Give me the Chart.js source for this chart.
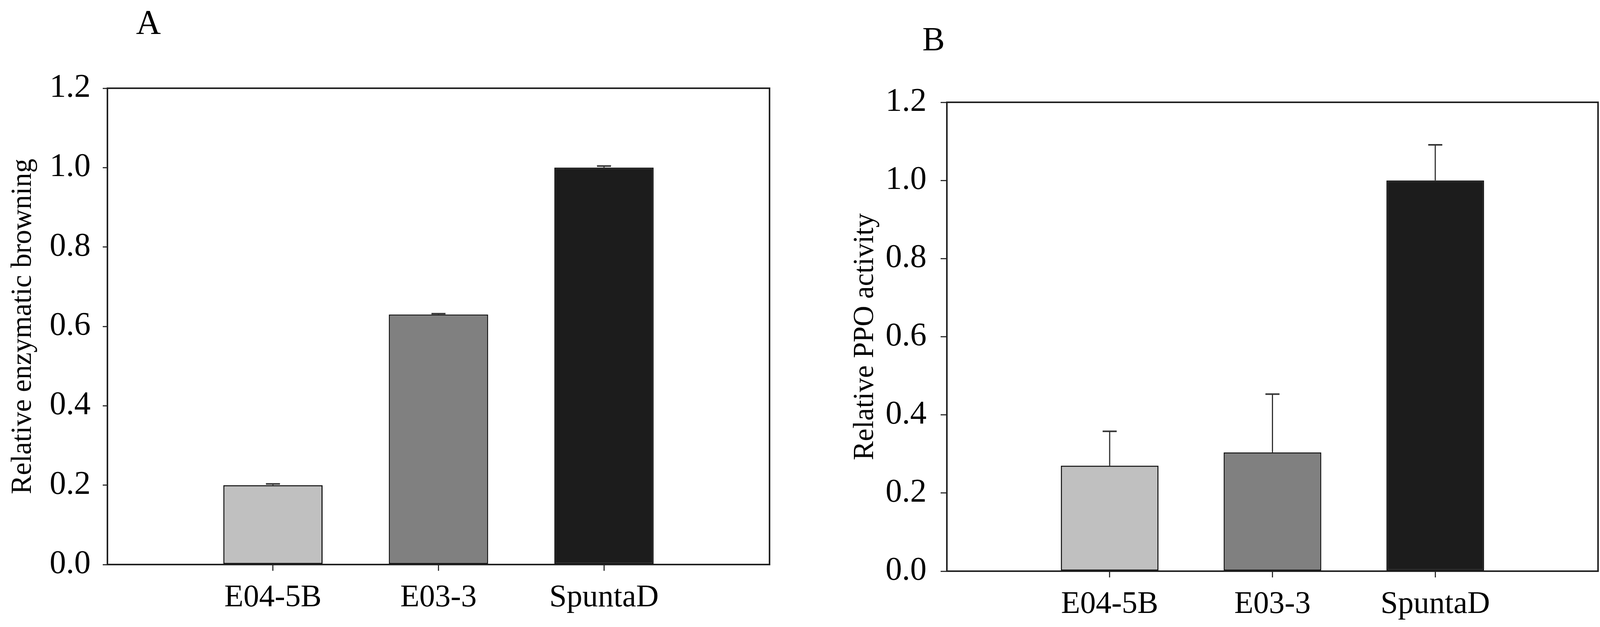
<!DOCTYPE html>
<html>
<head>
<meta charset="utf-8">
<script src="https://cdn.jsdelivr.net/npm/chart.js@4/dist/chart.umd.min.js"></script>
<style>
  html, body { margin: 0; padding: 0; background: #fff; }
  #page { position: relative; width: 4120px; height: 1606px; background: #fff; overflow: hidden; }
  .panel { position: absolute; top: 0; width: 2060px; height: 1606px; }
  .tag { position: absolute; font-family: "Liberation Serif", serif; line-height: 1; color: #000; transform: translateX(-50%); }
</style>
</head>
<body>
<div id="page">
  <div class="panel" style="left:0"><canvas id="chart-a" width="2060" height="1606"></canvas></div>
  <div class="panel" style="left:2060px"><canvas id="chart-b" width="2060" height="1606"></canvas></div>
  <div class="tag" style="left:380px; top:13px; font-size:88px">A</div>
  <div class="tag" style="left:2390px; top:57px; font-size:86px">B</div>
</div>
<script>
// categories and values
const categories = ["E04-5B", "E03-3", "SpuntaD"];
const barColors = ["#c0c0c0", "#808080", "#1c1c1c"];
const yTickValues = [0, 0.2, 0.4, 0.6, 0.8, 1.0, 1.2];

const browningValues = [0.2, 0.63, 1.0];
const browningErrors = [0.003, 0.002, 0.004];

const ppoValues = [0.27, 0.304, 1.0];
const ppoErrors = [0.088, 0.149, 0.091];

const serif = "Liberation Serif";

// empty slot on each side so the bars sit at 1,2,3 on a 0..4 axis
const paddedLabels = ["", ...categories, ""];
function pad(arr) { return [null, ...arr, null]; }

const frameAndErrors = {
    id: "frameAndErrors",
    afterDatasetsDraw(chart) {
        const ctx = chart.ctx;
        const yScale = chart.scales.y;
        const errs = chart.options.plugins.frameAndErrors.errors;
        const meta = chart.getDatasetMeta(0);
        ctx.save();
        ctx.strokeStyle = "#333";
        meta.data.forEach((bar, i) => {
            const err = errs[i];
            const val = chart.data.datasets[0].data[i];
            if (err == null || val == null) return;
            const yTop = yScale.getPixelForValue(val + err);
            ctx.lineWidth = 3;
            ctx.beginPath();
            ctx.moveTo(bar.x, bar.y);
            ctx.lineTo(bar.x, yTop);
            ctx.stroke();
            ctx.lineWidth = 4;
            ctx.beginPath();
            ctx.moveTo(bar.x - 18, yTop);
            ctx.lineTo(bar.x + 18, yTop);
            ctx.stroke();
        });
        const a = chart.chartArea;
        ctx.strokeStyle = "#222";
        ctx.lineWidth = 4;
        ctx.strokeRect(a.left, a.top, a.right - a.left, a.bottom - a.top);
        ctx.restore();
    }
};

function makeChart(canvasId, values, errors, cfg) {
    const ctx = document.getElementById(canvasId).getContext("2d");
    return new Chart(ctx, {
        type: "bar",
        data: {
            labels: paddedLabels,
            datasets: [{
                data: pad(values),
                backgroundColor: pad(barColors),
                borderColor: "#111",
                borderWidth: 3,
                borderSkipped: false,
                categoryPercentage: 1,
                barPercentage: 0.6
            }]
        },
        options: {
            responsive: false,
            animation: false,
            devicePixelRatio: 1,
            layout: { padding: { left: cfg.padLeft, right: cfg.padRight, top: cfg.padTop, bottom: 0 } },
            plugins: {
                legend: { display: false },
                tooltip: { enabled: false },
                frameAndErrors: { errors: pad(errors) }
            },
            scales: {
                x: {
                    type: "category",
                    offset: false,
                    grid: {
                        offset: false,
                        drawOnChartArea: false,
                        drawTicks: true,
                        tickLength: 16,
                        lineWidth: 3,
                        color: (c) => (c.index === 0 || c.index === paddedLabels.length - 1) ? "rgba(0,0,0,0)" : "#333"
                    },
                    border: { display: true, color: "#333", width: 4 },
                    ticks: {
                        autoSkip: false,
                        maxRotation: 0,
                        padding: cfg.xPad,
                        color: "#000",
                        font: { family: serif, size: 80 }
                    },
                    afterFit: (s) => { s.height = cfg.xHeight; }
                },
                y: {
                    min: 0,
                    max: 1.2,
                    afterBuildTicks: (s) => { s.ticks = yTickValues.map(v => ({ value: v })); },
                    grid: {
                        drawOnChartArea: false,
                        drawTicks: true,
                        tickLength: cfg.yTick,
                        lineWidth: 3,
                        color: "#333"
                    },
                    border: { display: true, color: "#333", width: 4 },
                    ticks: {
                        padding: cfg.yPad,
                        color: "#000",
                        font: { family: serif, size: 84 },
                        callback: (v) => Number(v).toFixed(1)
                    },
                    title: {
                        display: true,
                        text: cfg.title,
                        color: "#000",
                        font: { family: serif, size: 73 },
                        padding: { top: cfg.titlePad, bottom: 0 }
                    },
                    afterFit: (s) => { s.width = cfg.yWidth; }
                }
            }
        },
        plugins: [frameAndErrors]
    });
}

makeChart("chart-a", browningValues, browningErrors, {
    title: "Relative enzymatic browning",
    padLeft: 0, padRight: 90, padTop: 226,
    yWidth: 275, yTick: 12, yPad: 31, titlePad: 16,
    xHeight: 160, xPad: 22
});

makeChart("chart-b", ppoValues, ppoErrors, {
    title: "Relative PPO activity",
    padLeft: 112, padRight: 29, padTop: 262,
    yWidth: 252, yTick: 16, yPad: 36, titlePad: 0,
    xHeight: 143, xPad: 22
});
</script>
</body>
</html>
